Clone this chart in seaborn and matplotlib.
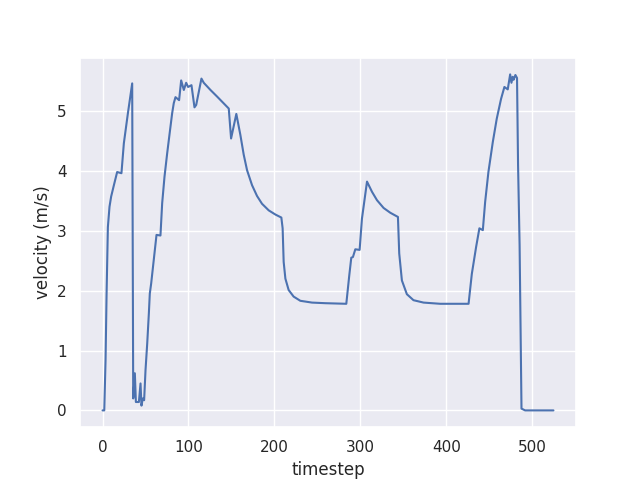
import numpy as np
import pandas as pd
import seaborn as sns
import matplotlib
matplotlib.use("Agg")
import matplotlib.pyplot as plt

# waypoints (timestep, velocity)
timestep = [0, 2, 3.5, 4.7, 6.2, 8.1, 10, 13.2, 17, 22, 24.8, 29.5, 34.5,
            35.7, 37.6, 38.8, 42.3, 44.2, 45.3, 46.9, 48.4,
            50, 52, 53.9, 55, 56.6, 62.8, 67.4, 69.4, 72.1, 75.2, 78.3, 81, 82.9, 84.9, 89.1,
            91.5, 94.6, 97.3, 99.6, 103.5, 107, 109, 115.1, 117.8,
            125.6, 133.3, 146.9, 149.6, 155.7, 160.4, 164.3, 168.2, 174, 179.8,
            185.6, 193.4, 201.2, 208.1,
            209.6, 210.8, 212.8, 216.6, 222.4, 230.2, 243.8, 259.3, 283.7,
            287.2, 289.5, 291.4, 294.2, 299.2, 301.9, 307.8,
            313.6, 319.4, 327.1, 334.9, 343.8,
            345.3, 348.4, 354.2, 361.9, 373.6, 393, 426,
            429.8, 434.8, 438.6, 442.6, 445.3, 449.1, 454.2, 458.8, 463.8, 467.7, 471.6,
            474.4, 475.9, 477.3, 478.4, 480.5, 482.4, 483.6, 485.4, 487.6, 491.8, 524.8]
velocity = [0, 0, 0.84, 1.95, 3.06, 3.40, 3.57, 3.76, 3.98, 3.96, 4.46, 4.96, 5.46,
            0.2, 0.62, 0.14, 0.14, 0.45, 0.08, 0.2, 0.17,
            0.67, 1.12, 1.62, 1.95, 2.12, 2.93, 2.92, 3.46, 3.90, 4.29, 4.65, 4.96, 5.13, 5.23, 5.18,
            5.51, 5.35, 5.47, 5.40, 5.43, 5.06, 5.1, 5.54, 5.47,
            5.35, 5.24, 5.04, 4.54, 4.95, 4.60, 4.27, 4.01, 3.76, 3.58,
            3.45, 3.34, 3.27, 3.22,
            3.04, 2.48, 2.20, 2.01, 1.90, 1.83, 1.80, 1.79, 1.78,
            2.26, 2.55, 2.56, 2.69, 2.68, 3.2, 3.82,
            3.65, 3.51, 3.38, 3.30, 3.23,
            2.62, 2.17, 1.94, 1.84, 1.80, 1.78, 1.78,
            2.28, 2.73, 3.04, 3.01, 3.48, 3.98, 4.48, 4.87, 5.20, 5.40, 5.36,
            5.61, 5.47, 5.57, 5.52, 5.60, 5.55, 4.1, 2.76, 0.03, 0, 0]

df = pd.DataFrame({"timestep": timestep, "velocity": velocity})

sns.set_theme()
fig, ax = plt.subplots(figsize=(6.4, 4.8), dpi=100)
sns.lineplot(x="timestep", y="velocity", data=df, ax=ax)
ax.set_xlabel("timestep")
ax.set_ylabel("velocity (m/s)")
fig.savefig("out.png")
